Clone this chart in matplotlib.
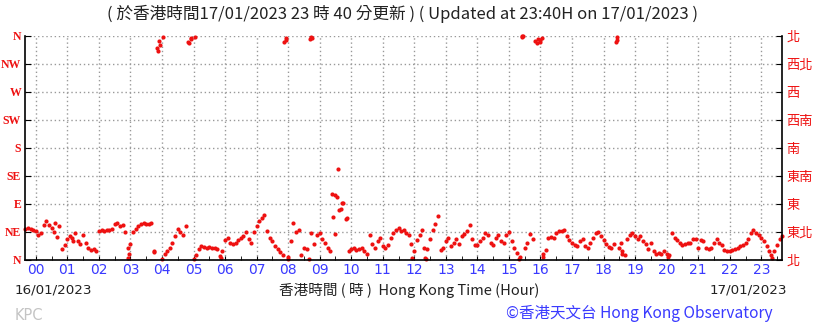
import numpy as np
import matplotlib
matplotlib.use("Agg")
import matplotlib.pyplot as plt

# ---------------- data ----------------
# 5-minute wind direction readings (degrees), starting 16/01 23:40 (hour -1/3)
start_hour = -20 / 60.0
step_hour = 5 / 60.0
direction = [
    # 23:40 - 23:55 (16/01)
    50, 51, 50, 48,
    # 00
    47, 40, 44, 57, 63, 57, 52, 45, 37, 55, 17, 24,
    # 01
    33, 38, 30, 44, 30, 25, 40, 28, 20, 16, 17, 15,
    # 02
    47, 48, 47, 49, 48, 50, 58, 60, 55, 57, 45, 3,
    # 03
    25, 45, 50, 55, 58, 60, 58, 58, 60, 13, 340, 352,
    # 04
    2, 10, 14, 20, 27, 38, 50, 45, 40, 55, 350, 357,
    # 05
    2, 8, 18, 22, 21, 20, 21, 19, 20, 18, 6, 14,
    # 06
    32, 36, 28, 25, 27, 32, 35, 38, 45, 33, 28, 45,
    # 07
    55, 63, 67, 72, 46, 36, 30, 22, 18, 13, 8, 354,
    # 08
    2, 30, 60, 45, 48, 8, 20, 17, 2, 357, 25, 40,
    # 09
    44, 33, 28, 20, 14, 69, 104, 146, 82, 91, 66, 15,
    # 10
    17, 19, 16, 18, 20, 15, 9, 40, 25, 20, 30, 35,
    # 11
    22, 20, 24, 35, 44, 48, 51, 47, 49, 44, 40, 3,
    # 12
    15, 32, 40, 48, 3, 18, 33, 48, 58, 70, 16, 20,
    # 13
    30, 36, 22, 28, 33, 25, 38, 42, 46, 56, 34, 24,
    # 14
    24, 30, 36, 44, 40, 28, 24, 36, 40, 30, 27, 40,
    # 15
    45, 30, 20, 12, 2, 359, 20, 28, 42, 34, 352, 355,
    # 16
    350, 5, 16, 35, 37, 35, 44, 46, 47, 49, 38, 32,
    # 17
    27, 24, 22, 30, 33, 22, 20, 28, 35, 43, 45, 38,
    # 18
    32, 26, 21, 19, 25, 354, 20, 10, 8, 33, 40, 43,
    # 19
    38, 34, 38, 30, 26, 18, 28, 14, 10, 12, 9, 14,
    # 20
    10, 8, 44, 36, 32, 27, 24, 26, 28, 27, 33, 34,
    # 21
    20, 32, 30, 20, 18, 20, 28, 33, 27, 24, 16, 14,
    # 22
    14, 16, 18, 19, 22, 24, 28, 33, 44, 48, 43, 40,
    # 23:00 - 23:40
    36, 30, 22, 14, 4, 14, 24, 33, 38,
]
obs_hour = start_hour + step_hour * np.arange(len(direction))

# additional scattered readings between the 5-minute ones
extra_hour = [3.76, 3.88, 3.94, 4.86, 4.93, 7.87, 7.92, 8.68, 8.74, 9.38, 9.47, 9.55,
              9.62, 9.70, 9.86, 15.40, 15.46, 15.88, 15.98, 16.04, 18.38, 18.42,
              0.62, 1.14, 2.97, 5.86, 12.38, 8.72, 2.93, 4.02, 5.04, 7.98, 11.90,
              12.30, 15.35, 16.08, 18.55, 18.60, 20.05, 23.30]
extra_dir = [15, 336, 346, 349, 355, 350, 357, 355, 359, 106, 41, 102,
             81, 92, 68, 360, 360, 349, 353, 356, 350, 358,
             60, 36, 10, 4, 2, 44, 20, 358, 359, 5, 25,
             20, 5, 10, 28, 14, 5, 8]

compass_left = ["N", "NE", "E", "SE", "S", "SW", "W", "NW", "N"]
compass_right = ["北", "東北", "東", "東南", "南", "西南", "西", "西北", "北"]
compass_deg = [0, 45, 90, 135, 180, 225, 270, 315, 360]
hour_labels = ["%02d" % h for h in range(24)]

title = "( 於香港時間17/01/2023 23 時 40 分更新 ) ( Updated at 23:40H on 17/01/2023 )"
x_title = "香港時間 ( 時 )  Hong Kong Time (Hour)"
date_left = "16/01/2023"
date_right = "17/01/2023"
station = "KPC"
credit = "©香港天文台 Hong Kong Observatory"

# ---------------- figure ----------------
W, H = 820, 331
fig = plt.figure(figsize=(W / 100, H / 100), dpi=100)
ax = fig.add_axes([25.3 / W, 1 - 260 / H, (782.3 - 25.3) / W, (260 - 36) / H])

red = "#ee1111"
blue = "#3a3aff"
cjk = ["Noto Sans CJK TC", "DejaVu Sans"]

ax.plot(obs_hour, direction, "o", color=red, ms=3.0, mew=0, clip_on=False)
ax.plot(extra_hour, extra_dir, "o", color=red, ms=3.0, mew=0, clip_on=False)

ax.set_xlim(-1 / 3, 23 + 2 / 3)
ax.set_ylim(0, 360)

ax.set_yticks(compass_deg)
ax.set_yticklabels(compass_left, color=red, fontsize=8.5, family="Liberation Serif",
                   fontweight="bold")
ax.tick_params(axis="y", direction="in", length=4, pad=3, colors="black")
for lab in ax.get_yticklabels():
    lab.set_color(red)

ax2 = ax.twinx()
ax2.set_ylim(0, 360)
ax2.set_yticks(compass_deg)
ax2.set_yticklabels(compass_right, color=red, fontsize=9.5, family=cjk)
ax2.tick_params(axis="y", direction="in", length=4, pad=3)
for lab in ax2.get_yticklabels():
    lab.set_color(red)

ax.set_xticks(range(24))
ax.set_xticklabels(hour_labels, color=blue, fontsize=10, family="DejaVu Sans")
ax.set_xticks(np.arange(0.5, 23.6, 1), minor=True)
ax.tick_params(axis="x", which="major", direction="in", length=3, pad=2)
ax.tick_params(axis="x", which="minor", direction="in", length=3)

ax.grid(True, which="major", color="#999999", linestyle=(0, (1, 2)), linewidth=1)
for a in (ax, ax2):
    a.spines["top"].set_visible(False)
ax2.spines["left"].set_visible(False)
ax2.spines["bottom"].set_visible(False)
ax.spines["right"].set_visible(False)
for s in ("left", "bottom"):
    ax.spines[s].set_linewidth(1.2)
ax2.spines["right"].set_linewidth(1.2)

fig.text(403 / W, 1 - 14 / H, title, ha="center", va="center", fontsize=12,
         color="#222222", family=cjk)
fig.text(15 / W, 1 - 290 / H, date_left, ha="left", va="center", fontsize=9.7,
         color="#222222", family="DejaVu Sans")
fig.text(409 / W, 1 - 290 / H, x_title, ha="center", va="center", fontsize=10.5,
         color="#222222", family=cjk)
fig.text(787 / W, 1 - 290 / H, date_right, ha="right", va="center", fontsize=9.7,
         color="#222222", family="DejaVu Sans")
fig.text(15 / W, 1 - 316 / H, station, ha="left", va="center", fontsize=10.5,
         color="#c4c4c4", family="DejaVu Sans")
fig.text(773 / W, 1 - 313 / H, credit, ha="right", va="center", fontsize=11.2,
         color=blue, family=cjk)

fig.savefig("out.png", dpi=100)
